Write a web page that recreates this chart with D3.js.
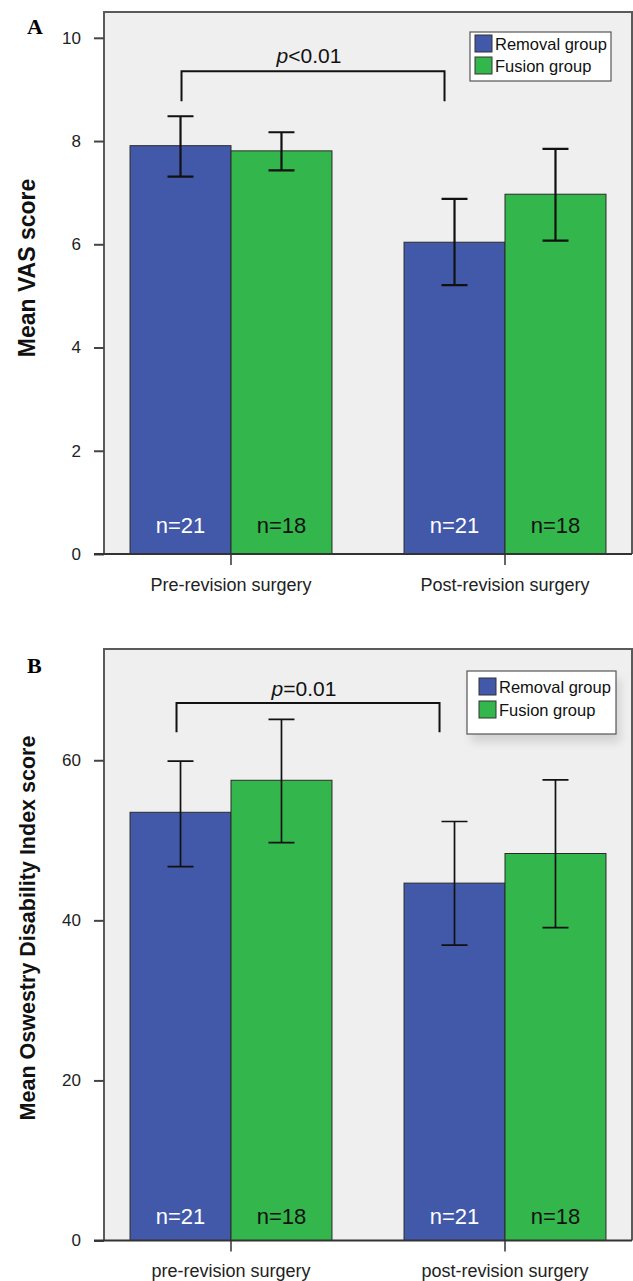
<!DOCTYPE html>
<html>
<head>
<meta charset="utf-8">
<script src="https://cdn.jsdelivr.net/npm/d3@7"></script>
<style>
  body { margin: 0; background: #fff; }
  svg { display: block; }
  text { font-family: "Liberation Sans", Arial, sans-serif; }
</style>
</head>
<body>
<svg width="633" height="1281"></svg>
<script>
var series = ["Removal group", "Fusion group"];
var counts = [21, 18];
var colors = ["#4259a9", "#33b64b"];

// panel A: VAS
var vasGroups = ["Pre-revision surgery", "Post-revision surgery"];
var vasTicks = [0, 2, 4, 6, 8, 10];
var vasRemoval = [7.91, 6.04], vasRemovalLo = [7.31, 5.21], vasRemovalHi = [8.48, 6.88];
var vasFusion = [7.81, 6.97], vasFusionLo = [7.43, 6.07], vasFusionHi = [8.17, 7.85];
var vasBracket = [9.35, 8.77];

// panel B: ODI
var odiGroups = ["pre-revision surgery", "post-revision surgery"];
var odiTicks = [0, 20, 40, 60];
var odiRemoval = [53.5, 44.65], odiRemovalLo = [46.7, 36.9], odiRemovalHi = [59.9, 52.35];
var odiFusion = [57.5, 48.35], odiFusionLo = [49.7, 39.1], odiFusionHi = [65.1, 57.55];
var odiBracket = [67.15, 63.5];

var svg = d3.select("svg");

var defs = svg.append("defs");
defs.append("filter").attr("id", "shadow")
    .attr("x", "-20%").attr("y", "-20%").attr("width", "140%").attr("height", "160%")
  .append("feGaussianBlur").attr("stdDeviation", 5);

var left = 104, right = 632;

function panel(p) {
  var g = svg.append("g");

  var y = d3.scaleLinear().domain([0, p.max]).range([p.bottom, p.top]);
  var x0 = d3.scaleBand().domain(p.groups).range([left, right])
      .paddingInner(0.263).paddingOuter(0.095);
  var x1 = d3.scaleBand().domain(series).range([0, x0.bandwidth()]);

  // plot background and frame
  g.append("rect")
      .attr("x", left).attr("y", p.top)
      .attr("width", right - left).attr("height", p.bottom - p.top)
      .attr("fill", "#efefef");
  g.append("path")
      .attr("d", "M" + left + "," + p.bottom + "V" + p.top + "H" + right + "V" + p.bottom)
      .attr("fill", "none").attr("stroke", "#5a5a5a").attr("stroke-width", 2);

  var rows = p.groups.map(function(c, i) {
    return [
      {group: c, s: series[0], v: p.rem[i], lo: p.remLo[i], hi: p.remHi[i], n: counts[0], k: 0},
      {group: c, s: series[1], v: p.fus[i], lo: p.fusLo[i], hi: p.fusHi[i], n: counts[1], k: 1}
    ];
  });
  var flat = [].concat.apply([], rows);

  var bars = g.selectAll(".bar").data(flat).enter().append("g");

  bars.append("rect")
      .attr("x", function(d) { return x0(d.group) + x1(d.s); })
      .attr("y", function(d) { return y(d.v); })
      .attr("width", x1.bandwidth())
      .attr("height", function(d) { return y(0) - y(d.v); })
      .attr("fill", function(d) { return colors[d.k]; })
      .attr("stroke", "#2b2b2b").attr("stroke-width", 1);

  bars.append("text")
      .attr("x", function(d) { return x0(d.group) + x1(d.s) + x1.bandwidth() / 2; })
      .attr("y", y(0) - p.nOffset)
      .attr("text-anchor", "middle")
      .attr("font-size", 22)
      .attr("fill", function(d) { return d.k === 0 ? "#fff" : "#111"; })
      .text(function(d) { return "n=" + d.n; });

  // error bars
  var cap = 13;
  var eb = bars.append("g")
      .attr("stroke", "#111").attr("stroke-width", p.errWidth).attr("fill", "none");
  eb.append("path")
      .attr("d", function(d) {
        var cx = x0(d.group) + x1(d.s) + x1.bandwidth() / 2;
        return "M" + cx + "," + y(d.lo) + "V" + y(d.hi) +
               "M" + (cx - cap) + "," + y(d.hi) + "H" + (cx + cap) +
               "M" + (cx - cap) + "," + y(d.lo) + "H" + (cx + cap);
      });

  // y axis
  var ya = g.append("g")
      .attr("transform", "translate(" + left + ",0)")
      .call(d3.axisLeft(y).tickValues(p.ticks).tickSize(10).tickPadding(13));
  ya.select(".domain").remove();
  ya.selectAll(".tick line").attr("stroke", "#444").attr("stroke-width", 2);
  ya.selectAll(".tick text")
      .attr("font-size", 17).attr("fill", "#222")
      .style("font-family", "'Liberation Sans Narrow', 'Liberation Sans', Arial, sans-serif");

  // x axis line and group ticks
  g.append("line")
      .attr("x1", left - 10).attr("x2", right)
      .attr("y1", y(0)).attr("y2", y(0))
      .attr("stroke", "#333").attr("stroke-width", 2);
  var xa = g.selectAll(".xt").data(p.groups).enter().append("g")
      .attr("transform", function(d) { return "translate(" + (x0(d) + x0.bandwidth() / 2) + "," + y(0) + ")"; });
  xa.append("line").attr("y2", 11).attr("stroke", "#333").attr("stroke-width", 1.5);
  xa.append("text")
      .attr("y", p.xLabelDy)
      .attr("text-anchor", "middle")
      .attr("font-size", 18).attr("fill", "#222")
      .style("font-family", "'Liberation Sans Narrow', 'Liberation Sans', Arial, sans-serif")
      .text(function(d) { return d; });

  // y title
  g.append("text")
      .attr("transform", "translate(" + 35 + "," + p.titleY + ") rotate(-90)")
      .attr("text-anchor", "middle")
      .attr("font-size", p.titleSize).attr("font-weight", "bold").attr("fill", "#111")
      .text(p.title);

  // panel letter
  g.append("text")
      .attr("x", 27).attr("y", p.letterY)
      .style("font-family", "'Liberation Serif', 'Times New Roman', serif")
      .attr("font-size", 22).attr("font-weight", "bold")
      .text(p.letter);

  // significance bracket
  var bx1 = x0(p.groups[0]) + x1(series[0]) + x1.bandwidth() / 2 + p.bracketDx[0];
  var bx2 = x0(p.groups[1]) + x1(series[0]) + x1.bandwidth() / 2 + p.bracketDx[1];
  g.append("path")
      .attr("d", "M" + bx1 + "," + y(p.bracket[1]) + "V" + y(p.bracket[0]) +
                 "H" + bx2 + "V" + y(p.bracket[1]))
      .attr("fill", "none").attr("stroke", "#111").attr("stroke-width", 2);
  var pt = g.append("text")
      .attr("x", (bx1 + bx2) / 2 - 4).attr("y", y(p.bracket[0]) - p.pDy)
      .attr("text-anchor", "middle").attr("font-size", 21).attr("fill", "#111");
  pt.append("tspan").attr("font-style", "italic").text("p");
  pt.append("tspan").text(p.pText);

  // legend
  var L = p.legend;
  if (L.shadow) {
    g.append("rect")
        .attr("x", L.x + 4).attr("y", L.y + 8).attr("width", L.w).attr("height", L.h)
        .attr("fill", "#000").attr("opacity", 0.12).attr("filter", "url(#shadow)");
  }
  g.append("rect")
      .attr("x", L.x).attr("y", L.y).attr("width", L.w).attr("height", L.h)
      .attr("fill", "#fff").attr("stroke", "#555").attr("stroke-width", 1.2);
  var li = g.selectAll(".li").data(series).enter().append("g")
      .attr("transform", function(d, i) { return "translate(" + (L.x + L.pad) + "," + (L.y + L.sy + i * L.step) + ")"; });
  li.append("rect")
      .attr("width", 17).attr("height", 17)
      .attr("fill", function(d, i) { return colors[i]; })
      .attr("stroke", "#333").attr("stroke-width", 1);
  li.append("text")
      .attr("x", 20).attr("y", 15)
      .attr("font-size", 16.5).attr("fill", "#111")
      .text(function(d) { return d; });
}

panel({
  top: 12, bottom: 554, max: 10.5, ticks: vasTicks, groups: vasGroups,
  rem: vasRemoval, remLo: vasRemovalLo, remHi: vasRemovalHi,
  fus: vasFusion, fusLo: vasFusionLo, fusHi: vasFusionHi,
  bracket: vasBracket, bracketDx: [1, -10], pText: "<0.01", pDy: 8,
  title: "Mean VAS score", titleSize: 23, titleY: 268, letter: "A", letterY: 34,
  nOffset: 21, xLabelDy: 37, errWidth: 2.2,
  legend: {x: 470, y: 32, w: 141, h: 49, pad: 5, sy: 3, step: 22, shadow: false}
});

panel({
  top: 649, bottom: 1240.5, max: 73.9, ticks: odiTicks, groups: odiGroups,
  rem: odiRemoval, remLo: odiRemovalLo, remHi: odiRemovalHi,
  fus: odiFusion, fusLo: odiFusionLo, fusHi: odiFusionHi,
  bracket: odiBracket, bracketDx: [-4, -15], pText: "=0.01", pDy: 7,
  title: "Mean Oswestry Disability Index score", titleSize: 21.5, titleY: 928, letter: "B", letterY: 673,
  nOffset: 17, xLabelDy: 36, errWidth: 1.7,
  legend: {x: 467, y: 671, w: 149, h: 63, pad: 12, sy: 7, step: 23, shadow: true}
});
</script>
</body>
</html>
